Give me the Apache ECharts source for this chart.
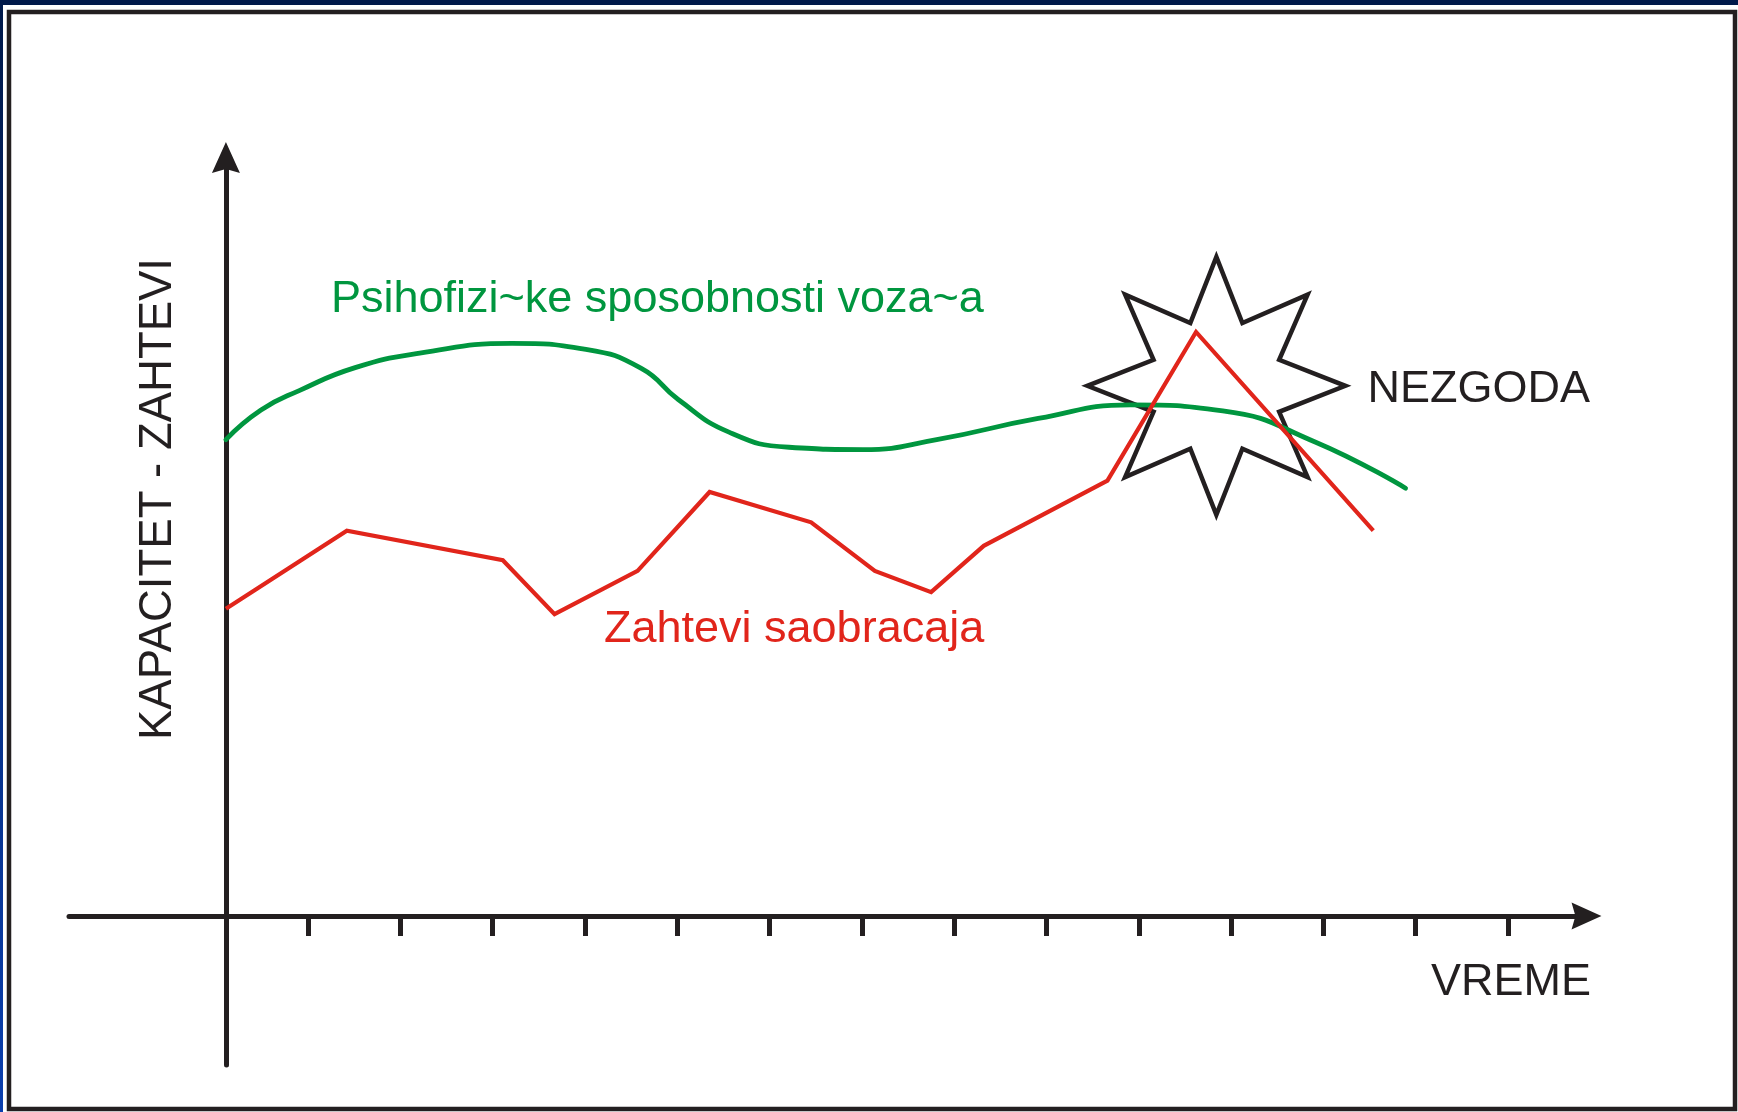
<!DOCTYPE html>
<html lang="sr">
<head>
<meta charset="utf-8">
<title>Kapacitet - zahtevi</title>
<script src="https://cdn.jsdelivr.net/npm/echarts@6/dist/echarts.min.js"></script>
<style>
  html, body { margin: 0; padding: 0; background: #fff; }
  #container { width: 1738px; height: 1112px; }
</style>
</head>
<body>
<div id="container"></div>
<script>
// x = vreme (1 = razmak izmedju podeoka, 0 = vertikalna osa), y = kapacitet / zahtevi
const podeoci = [0.89, 1.89, 2.89, 3.89, 4.89, 5.89, 6.89, 7.89, 8.89, 9.89, 10.89, 11.89, 12.89, 13.89];

const zahteviX = [0, 1.31, 3.0, 3.56, 4.46, 5.24, 6.34, 7.03, 7.64, 8.21, 9.55, 10.51, 12.43];
const zahteviY = [40.5, 50.8, 46.9, 39.8, 45.5, 55.9, 51.9, 45.5, 42.7, 48.8, 57.4, 77.0, 50.8];

const sposobnostiX = [0, 0.38, 0.8, 1.4, 2.1, 3.1, 3.9, 4.5, 4.9, 5.45, 6.1, 6.9, 7.7, 8.8, 9.8, 10.8, 11.8, 12.78];
const sposobnostiY = [62.8, 66.7, 69.3, 72.3, 74.2, 75.5, 74.7, 72.2, 68.1, 63.8, 61.8, 61.5, 62.8, 65.6, 67.4, 66.6, 62.5, 56.4];

const nezgoda = [10.73, 69.9];

const CRNA = "#231f20";
const ZELENA = "#00963f";
const CRVENA = "#e1251b";
const FONT = "'Liberation Sans', Arial, sans-serif";

const parovi = (xs, ys) => xs.map((x, i) => [x, ys[i]]);

// zvezda sa 8 krakova za oznaku nezgode
function zvezda(krakova, unutra) {
  let d = "";
  for (let i = 0; i < krakova * 2; i++) {
    const r = i % 2 === 0 ? 1 : unutra;
    const a = -Math.PI / 2 + (i * Math.PI) / krakova;
    d += (i === 0 ? "M" : "L") + (r * Math.cos(a)).toFixed(4) + "," + (r * Math.sin(a)).toFixed(4) + " ";
  }
  return "path://" + d + "Z";
}

const strelica = "path://M14,0 L28,31 L14,27 L0,31 Z";

function tekst(text, x, y, size, color, rotation) {
  return {
    type: "text",
    x: x,
    y: y,
    rotation: rotation || 0,
    silent: true,
    style: {
      text: text,
      fill: color,
      fontSize: size,
      fontFamily: FONT,
      align: rotation ? "center" : "left",
      verticalAlign: "middle",
    },
  };
}

let dom = document.getElementById("container");
let myChart = echarts.init(dom, null, {
  renderer: "canvas",
  useDirtyRect: false,
});

let option = {
  animation: false,
  backgroundColor: "#ffffff",
  grid: {
    left: 69,
    right: 151.5,
    top: 157.5,
    bottom: 47,
    containLabel: false,
    outerBoundsMode: "none",
  },
  xAxis: {
    type: "value",
    min: -1.7,
    max: 14.74,
    axisLine: {
      onZero: true,
      symbol: ["none", strelica],
      symbolSize: [27, 31],
      lineStyle: { color: CRNA, width: 5 },
    },
    axisTick: {
      show: true,
      customValues: podeoci,
      length: 20,
      lineStyle: { color: CRNA, width: 5 },
    },
    axisLabel: { show: false },
    splitLine: { show: false },
  },
  yAxis: {
    type: "value",
    min: -19.64,
    max: 100,
    axisLine: {
      show: true,
      onZero: true,
      symbol: ["none", strelica],
      symbolSize: [28, 31],
      lineStyle: { color: CRNA, width: 5 },
    },
    axisTick: { show: false },
    axisLabel: { show: false },
    splitLine: { show: false },
  },
  series: [
    {
      name: "Nezgoda",
      type: "scatter",
      silent: true,
      data: [nezgoda],
      symbol: zvezda(8, 0.527),
      symbolSize: 258,
      itemStyle: {
        color: "rgba(0,0,0,0)",
        borderColor: CRNA,
        borderWidth: 4.5,
        opacity: 1,
      },
      label: {
        show: true,
        position: "right",
        distance: 20,
        offset: [0, 4],
        formatter: "NEZGODA",
        color: CRNA,
        opacity: 1,
        fontSize: 45,
        fontFamily: FONT,
      },
    },
    {
      name: "Psihofizi~ke sposobnosti voza~a",
      type: "line",
      silent: true,
      smooth: 0.5,
      symbol: "none",
      data: parovi(sposobnostiX, sposobnostiY),
      lineStyle: { color: ZELENA, width: 4.8, cap: "round" },
    },
    {
      name: "Zahtevi saobracaja",
      type: "line",
      silent: true,
      symbol: "none",
      data: parovi(zahteviX, zahteviY),
      lineStyle: { color: CRVENA, width: 4.2, join: "miter" },
    },
  ],
  graphic: [
    // okvir slajda
    { type: "rect", silent: true, shape: { x: 0, y: 0, width: 1738, height: 5 }, style: { fill: "#00194a" } },
    {
      type: "rect",
      silent: true,
      shape: { x: 0, y: 0, width: 3, height: 1112 },
      style: {
        fill: new echarts.graphic.LinearGradient(0, 0, 0, 1, [
          { offset: 0, color: "#00194a" },
          { offset: 1, color: "#0b3fae" },
        ]),
      },
    },
    {
      type: "rect",
      silent: true,
      shape: { x: 9, y: 12, width: 1726, height: 1097 },
      style: { fill: "none", stroke: CRNA, lineWidth: 4.5 },
    },
    tekst("Psihofizi~ke sposobnosti voza~a", 331, 300, 45, ZELENA),
    tekst("Zahtevi saobracaja", 604, 629.5, 45, CRVENA),
    tekst("VREME", 1431, 982.5, 45, CRNA),
    tekst("KAPACITET - ZAHTEVI", 158.5, 499, 45.5, CRNA, Math.PI / 2),
  ],
};

if (option && typeof option === "object") {
  myChart.setOption(option);
}

window.addEventListener("resize", myChart.resize);
</script>
</body>
</html>
